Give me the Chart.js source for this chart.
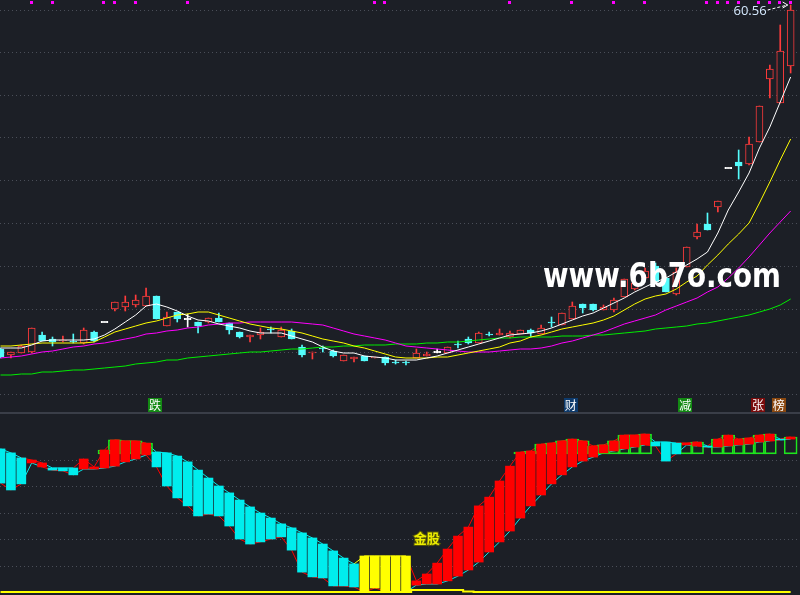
<!DOCTYPE html>
<html>
<head>
<meta charset="utf-8">
<script src="https://cdn.jsdelivr.net/npm/chart.js@4.4.1/dist/chart.umd.min.js"></script>
<style>
html, body { margin: 0; padding: 0; background: #1c1f26; overflow: hidden; }
#top { position: absolute; left: 0; top: 0; width: 800px; height: 412px; }
#bot { position: absolute; left: 0; top: 412px; width: 800px; height: 181px; border-top: 2px solid #3a3e48; }
</style>
</head>
<body>
<div id="top"><canvas id="priceChart"></canvas></div>
<div id="bot"><canvas id="oscChart"></canvas></div>
<script>
// K-line data (one entry per trading day, 77 days)
const open = [26.16,25.56,25.76,25.86,27.56,27.16,26.96,26.96,26.76,27.86,
  28.86,30.16,30.36,30.56,30.46,31.46,28.46,29.86,29.16,28.86,
  28.86,29.26,28.76,27.86,27.36,27.56,28.16,27.36,27.96,26.36,
  25.76,26.26,25.96,24.96,25.16,25.46,25.26,25.36,24.86,24.86,
  25.26,25.46,25.86,25.76,26.66,27.16,26.76,27.66,27.56,27.36,
  27.66,28.06,27.66,28.86,28.56,29.16,30.66,30.66,30.06,30.06,
  31.36,32.16,33.26,34.46,33.26,31.66,34.36,37.36,38.66,40.36,
  44.26,44.86,44.66,46.86,53.16,50.76,54.46];
const close = [25.36,25.86,26.46,28.26,26.96,26.86,27.06,26.86,28.06,26.96,
  28.86,30.86,30.86,31.06,31.46,29.16,29.36,29.16,29.16,28.46,
  29.26,28.86,28.06,27.36,27.56,27.86,28.06,28.06,27.16,25.56,
  25.86,26.16,25.46,25.56,25.36,24.96,25.36,24.76,24.76,24.76,
  25.76,25.66,25.86,26.36,26.56,26.76,27.76,27.56,27.76,27.76,
  28.06,27.76,28.26,28.76,29.76,30.46,30.26,30.06,30.36,31.06,
  33.16,32.76,33.96,32.86,31.86,33.86,36.36,37.86,38.06,40.96,
  44.26,44.46,46.66,50.46,54.16,55.96,60.06];
const high = [26.26,25.86,26.56,28.26,27.86,27.36,27.46,27.66,28.26,27.96,
  28.86,30.86,31.46,31.56,32.26,31.46,29.86,29.86,29.66,28.86,
  29.26,29.76,28.76,27.86,27.56,28.26,28.36,28.36,28.16,26.56,
  25.86,26.46,26.06,25.56,25.36,25.46,25.36,25.36,25.06,24.96,
  26.16,25.86,26.16,26.36,26.96,27.36,27.86,27.86,28.16,27.96,
  28.06,28.16,28.56,29.36,29.76,30.86,30.66,30.66,30.56,31.26,
  33.16,32.96,34.26,34.76,33.26,34.26,36.36,38.66,39.76,40.96,
  44.26,46.06,47.36,50.46,54.56,58.56,60.56];
const low = [25.26,25.26,25.76,25.76,26.96,26.46,26.86,26.76,26.66,26.86,
  28.86,29.96,29.96,30.36,30.46,29.16,28.46,28.86,28.36,27.76,
  28.76,28.86,27.66,27.26,26.86,27.16,27.76,27.36,27.16,25.36,
  25.16,25.86,25.36,24.96,24.86,24.96,25.26,24.56,24.66,24.56,
  25.26,25.46,25.76,25.76,26.26,26.66,26.76,27.46,27.56,27.26,
  27.66,27.36,27.66,28.36,28.56,29.16,29.76,29.96,30.06,29.86,
  31.36,32.06,33.16,32.86,31.86,31.56,34.36,37.16,38.06,39.86,
  44.26,43.16,44.56,46.86,51.26,50.76,53.76];

// moving averages
const ma5 = [26.26,26.26,26.26,26.56,26.96,27.06,27.06,27.06,27.06,27.16,
  27.56,28.16,28.86,29.56,30.46,30.66,30.36,29.96,29.46,29.06,
  28.96,28.66,28.46,28.26,27.96,27.76,27.76,27.76,27.46,27.16,
  26.86,26.36,25.96,25.76,25.76,25.46,25.36,25.26,25.06,25.06,
  25.06,25.26,25.46,25.76,26.06,26.36,26.66,26.96,27.26,27.56,
  27.66,27.76,27.96,28.26,28.66,29.06,29.46,29.76,30.26,30.76,
  31.26,31.86,32.36,32.86,33.26,33.86,34.56,35.16,35.86,37.76,
  40.06,41.86,43.76,46.26,48.36,50.86,53.36];
const ma10 = [26.46,26.46,26.56,26.66,26.76,26.76,26.76,26.76,26.76,26.86,
  27.36,27.86,28.16,28.46,28.76,28.96,29.26,29.56,29.66,29.86,
  29.86,29.56,29.26,28.96,28.66,28.46,28.26,28.16,27.96,27.76,
  27.46,27.16,26.96,26.76,26.46,26.26,25.96,25.66,25.36,25.26,
  25.26,25.26,25.36,25.36,25.56,25.76,25.96,26.16,26.36,26.76,
  26.96,27.36,27.56,27.86,28.16,28.36,28.56,28.76,29.06,29.46,
  30.06,30.66,31.16,31.46,31.66,32.16,32.86,33.46,34.56,35.56,
  36.66,37.66,38.76,40.76,42.86,45.06,47.16];
const ma20 = [25.26,25.36,25.46,25.66,25.86,25.96,26.16,26.36,26.46,26.66,
  26.76,26.96,27.16,27.36,27.66,27.76,27.96,28.06,28.26,28.36,
  28.56,28.66,28.76,28.76,28.86,28.86,28.86,28.86,28.86,28.76,
  28.66,28.56,28.26,27.96,27.66,27.46,27.26,27.06,26.76,26.46,
  26.36,26.26,26.16,26.06,25.96,25.86,25.86,25.86,25.96,26.06,
  26.16,26.16,26.26,26.46,26.76,26.96,27.26,27.56,27.86,28.26,
  28.66,28.96,29.26,29.56,30.06,30.46,30.86,31.26,31.86,32.36,
  33.26,34.26,35.36,36.56,37.76,38.86,39.96];
const ma60 = [23.56,23.56,23.66,23.66,23.86,23.86,23.96,24.06,24.06,24.16,
  24.26,24.36,24.46,24.66,24.76,24.86,25.06,25.06,25.26,25.36,
  25.46,25.56,25.66,25.76,25.86,25.86,25.96,26.06,26.16,26.16,
  26.26,26.36,26.36,26.46,26.46,26.56,26.56,26.56,26.66,26.66,
  26.66,26.76,26.76,26.86,26.86,26.96,27.06,27.16,27.26,27.26,
  27.36,27.36,27.36,27.36,27.46,27.46,27.46,27.56,27.56,27.66,
  27.76,27.86,27.96,28.16,28.26,28.36,28.46,28.66,28.76,28.96,
  29.16,29.36,29.56,29.86,30.16,30.56,31.16];

const priceGrid = [60.11, 55.86, 51.61, 47.36, 43.06, 38.76, 34.46, 30.16, 25.86, 21.66];
const markerDays = [3,5,10,11,13,18,36,37,49,55,59,62,68,69,70,71,73,74,75,76];
const signalDays = [15, 55, 66, 73, 75];
const signalText = ['跌', '财', '减', '张', '榜'];
const signalBg = ['#138a13', '#0d3a6c', '#138a13', '#7a0c0c', '#8a4810'];

// lower oscillator
const oscLow = [41.1,38.5,40.8,48.7,47.2,46.0,45.7,44.2,46.4,46.4,
  46.8,47.5,49.1,50.2,51.7,47.2,40.0,35.5,32.5,28.7,
  29.4,28.7,24.9,20.0,18.1,18.9,20.0,20.8,15.8,7.5,
  5.7,5.3,2.3,2.3,1.9,0,1.5,0.4,0,0,
  2.6,3.0,3.0,4.2,6.0,8.3,11.3,15.1,18.9,23.0,
  27.9,32.5,36.6,40.8,44.2,47.2,49.4,50.9,52.5,53.2,
  54.0,54.7,55.5,55.1,49.4,52.1,55.5,55.1,54.7,54.7,
  55.1,55.5,55.8,56.6,57.0,57.4,57.7];
const oscHigh = [54.0,52.5,50.6,49.8,48.7,46.8,46.8,46.8,50.2,47.2,
  53.6,57.4,57.0,57.0,56.2,52.8,52.5,51.3,49.1,46.0,
  43.0,40.0,37.4,34.7,32.1,29.8,27.9,25.7,24.2,22.3,
  20.4,18.1,15.5,12.8,10.6,13.6,13.6,13.6,13.6,13.6,
  4.2,6.8,10.9,16.2,21.1,24.5,32.5,35.8,41.9,47.5,
  52.8,53.2,55.8,56.2,57.0,57.7,57.0,55.1,55.5,57.0,
  59.2,59.2,59.6,56.6,56.6,56.2,56.2,56.6,55.1,57.7,
  59.2,57.7,58.1,59.2,59.6,57.7,58.5];
const oscKind = ['c','c','c','r','r','c','c','c','r','r',
  'r','r','r','r','r','c','c','c','c','c',
  'c','c','c','c','c','c','c','c','c','c',
  'c','c','c','c','c','y','y','y','y','y',
  'r','r','r','r','r','r','r','r','r','r',
  'r','r','r','r','r','r','r','r','r','r',
  'r','r','r','c','c','c','r','r','c','r',
  'r','r','r','r','r','c','r'];
const boxDays = [10,11,12,13,14,50,51,52,53,54,55,56,57,58,59,60,61,62,66,67,69,70,71,72,73,74,76];
const boxBase = 52.1;
const baseLine = [0,0,0,0,0,0,0,0,0,0, 0,0,0,0,0,0,0,0,0,0,
  0,0,0,0,0,0,0,0,0,0, 0,0,0,0,0,0,0,0,0,0,
  0.75,0.75,0.75,0.75,0.75,0.2,0,0,0,0, 0,0,0,0,0,0,0,0,0,0,
  0,0,0,0,0,0,0,0,0,0, 0,0,0,0,0,0,0];
const goldDay = 41, goldLevel = 20.4, goldText = '金股';

const BG = '#1c1f26';
const RED = '#ff3b3b', CYAN = '#54fcfc', WHITE = '#ffffff';
const days = open.map((_, i) => i);
const candleColor = days.map(i => close[i] > open[i] ? RED : close[i] < open[i] ? CYAN : WHITE);
const bodyFill = days.map(i => close[i] > open[i] ? BG : candleColor[i]);
const xScale = { type: 'linear', display: false, min: -0.05, max: 76.9, offset: false };

function gridPlugin(id, values) {
  return {
    id,
    beforeDatasetsDraw(chart) {
      const { ctx, chartArea, scales: { y } } = chart;
      ctx.save();
      ctx.strokeStyle = '#4a4e58';
      ctx.lineWidth = 1;
      ctx.setLineDash([1, 3]);
      values.forEach(v => {
        const py = Math.round(y.getPixelForValue(v)) + 0.5;
        ctx.beginPath();
        ctx.moveTo(chartArea.left, py);
        ctx.lineTo(chartArea.right, py);
        ctx.stroke();
      });
      ctx.restore();
    }
  };
}

const topDeco = {
  id: 'topDeco',
  afterDatasetsDraw(chart) {
    const { ctx, scales: { x, y } } = chart;
    ctx.save();
    // signal squares along the top edge
    ctx.fillStyle = '#ff00ff';
    markerDays.forEach(d => ctx.fillRect(Math.round(x.getPixelForValue(d)) - 2, 1, 3, 3));

    // watermark
    ctx.font = 'bold 34px "DejaVu Sans"';
    const txt = 'www.6b7o.com';
    const w = ctx.measureText(txt).width;
    ctx.save();
    ctx.translate(543, 287);
    ctx.scale(238 / w, 1);
    ctx.fillStyle = '#ffffff';
    ctx.textBaseline = 'alphabetic';
    ctx.fillText(txt, 0, 0);
    ctx.restore();

    // highest price tag with arrow
    const last = high.length - 1;
    const hx = x.getPixelForValue(last), hy = y.getPixelForValue(high[last]);
    ctx.strokeStyle = '#ffffff';
    ctx.lineWidth = 1;
    ctx.setLineDash([3, 2]);
    ctx.beginPath();
    ctx.moveTo(hx - 23, hy + 5);
    ctx.lineTo(hx - 3, hy);
    ctx.stroke();
    ctx.setLineDash([]);
    ctx.beginPath();
    ctx.moveTo(hx - 8, hy - 3);
    ctx.lineTo(hx - 3, hy);
    ctx.lineTo(hx - 8, hy + 3);
    ctx.stroke();
    ctx.font = '13px "Open Sans"';
    ctx.fillStyle = '#d6eaff';
    ctx.textAlign = 'right';
    ctx.textBaseline = 'alphabetic';
    ctx.fillText(high[last].toFixed(2), hx - 24, hy + 10);

    // event tags
    ctx.font = '12px "Noto Sans CJK SC"';
    ctx.textAlign = 'center';
    ctx.textBaseline = 'middle';
    signalDays.forEach((d, k) => {
      const cx = x.getPixelForValue(d) - 1.5;
      ctx.fillStyle = signalBg[k];
      ctx.fillRect(Math.round(cx - 7), 398, 14, 14);
      ctx.fillStyle = '#ffffff';
      ctx.fillText(signalText[k], cx, 405);
    });
    ctx.restore();
  }
};

const lineDs = (data, color) => ({
  type: 'line',
  data: data.map((v, i) => ({ x: i, y: v })),
  borderColor: color,
  borderWidth: 1,
  pointRadius: 0,
  tension: 0,
  order: 0
});

new Chart(document.getElementById('priceChart'), {
  type: 'bar',
  data: {
    datasets: [
      lineDs(ma5, '#ffffff'),
      lineDs(ma10, '#ffff00'),
      lineDs(ma20, '#ff00ff'),
      lineDs(ma60, '#00ee00'),
      {
        data: days.map(i => {
          const a = open[i], b = close[i];
          return { x: i, y: a === b ? [a - 0.06, b + 0.06] : [a, b] };
        }),
        backgroundColor: bodyFill,
        borderColor: candleColor,
        borderWidth: 1,
        borderSkipped: false,
        barThickness: 7,
        grouped: false,
        order: 1
      },
      {
        data: days.map(i => ({ x: i, y: [low[i], high[i]] })),
        backgroundColor: candleColor,
        borderWidth: 0,
        barThickness: 1,
        grouped: false,
        order: 2
      }
    ]
  },
  options: {
    responsive: true,
    maintainAspectRatio: false,
    animation: false,
    layout: { padding: 0, autoPadding: false },
    plugins: { legend: { display: false }, tooltip: { enabled: false } },
    scales: {
      x: xScale,
      y: { type: 'linear', display: false, min: 19.86, max: 61.06 }
    }
  },
  plugins: [gridPlugin('topGrid', priceGrid), topDeco]
});

const oscColor = { r: '#ff0000', c: '#00eded', y: '#ffff00' };
const oppColor = { r: '#00eded', c: '#ff0000', y: '#ff0000' };

const botDeco = {
  id: 'botDeco',
  afterDatasetsDraw(chart) {
    const { ctx, scales: { x, y } } = chart;
    ctx.save();
    ctx.font = 'bold 13px "Noto Sans CJK SC"';
    ctx.textAlign = 'center';
    ctx.textBaseline = 'middle';
    const gx = x.getPixelForValue(goldDay), gy = y.getPixelForValue(goldLevel);
    ctx.lineWidth = 2;
    ctx.strokeStyle = '#55550a';
    ctx.strokeText(goldText, gx, gy);
    ctx.fillStyle = '#eeee00';
    ctx.fillText(goldText, gx, gy);
    ctx.restore();
  }
};

const trail = (values, colors) => ({
  type: 'line',
  data: values.map((v, i) => ({ x: i, y: v })),
  borderWidth: 1,
  pointRadius: 0,
  tension: 0,
  segment: { borderColor: c => colors[oscKind[c.p1DataIndex]] },
  order: 3
});

new Chart(document.getElementById('oscChart'), {
  type: 'bar',
  data: {
    datasets: [
      {
        type: 'line',
        data: baseLine.map((v, i) => ({ x: i, y: v })),
        borderColor: '#ffff00',
        borderWidth: 2,
        pointRadius: 0,
        stepped: 'middle',
        order: 0
      },
      {
        data: days.map(i => ({ x: i, y: [oscLow[i], oscHigh[i]] })),
        backgroundColor: days.map(i => oscColor[oscKind[i]]),
        borderWidth: 0,
        barThickness: 9,
        grouped: false,
        order: 1
      },
      {
        data: boxDays.map(d => ({ x: d, y: [boxBase, oscHigh[d]] })),
        backgroundColor: 'rgba(0,0,0,0)',
        borderColor: '#1ee61e',
        borderWidth: 1,
        borderSkipped: false,
        barThickness: 13,
        grouped: false,
        order: 2
      },
      trail(oscHigh, oscColor),
      trail(oscLow, oppColor)
    ]
  },
  options: {
    responsive: true,
    maintainAspectRatio: false,
    animation: false,
    layout: { padding: 0, autoPadding: false },
    plugins: { legend: { display: false }, tooltip: { enabled: false } },
    scales: {
      x: xScale,
      y: { type: 'linear', display: false, min: -1.13, max: 67.17 }
    }
  },
  plugins: [gridPlugin('botGrid', [10, 20, 30, 40, 50]), botDeco]
});
</script>
</body>
</html>
